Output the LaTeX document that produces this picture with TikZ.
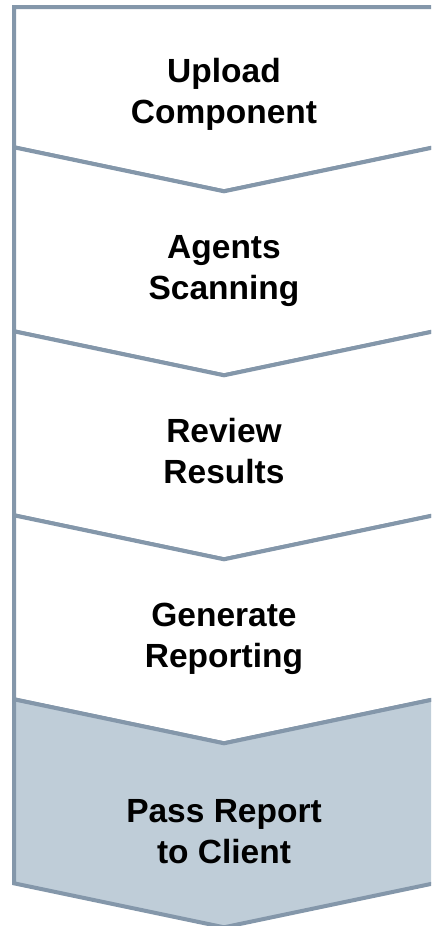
\documentclass[tikz,border=0pt]{standalone}
\usepackage{fontspec}
\setmainfont{Liberation Sans}
\definecolor{chevline}{RGB}{132,151,170}
\definecolor{chevfill}{RGB}{191,205,216}
\begin{document}
\begin{tikzpicture}[x=1pt,y=-1pt,
  chev/.style={draw=chevline, line width=4pt, line join=miter, fill=white},
  lastchev/.style={chev, fill=chevfill},
  lbl/.style={align=center, font=\fontsize{33.5}{41.5}\selectfont\bfseries, inner sep=0pt, text=black}]
\useasboundingbox (0,0) rectangle (431,926);
\clip (0,0) rectangle (431,926);
% chevrons
\path[chev] (14,7) -- (434,7) -- (434,147.3) -- (224,191.3) -- (14,147.3) -- cycle;
\path[chev] (14,147.3) -- (224,191.3) -- (434,147.3) -- (434,331.3) -- (224,375.3) -- (14,331.3) -- cycle;
\path[chev] (14,331.3) -- (224,375.3) -- (434,331.3) -- (434,515.3) -- (224,559.3) -- (14,515.3) -- cycle;
\path[chev] (14,515.3) -- (224,559.3) -- (434,515.3) -- (434,699.3) -- (224,743.3) -- (14,699.3) -- cycle;
\path[lastchev] (14,699.3) -- (224,743.3) -- (434,699.3) -- (434,883.3) -- (224,927.3) -- (14,883.3) -- cycle;
% labels
\node[lbl] (upload) at (224,94.75) {\strut Upload\\\strut Component};
\node[lbl] (agents) at (224,270.75) {\strut Agents\\\strut Scanning};
\node[lbl] (review) at (224,454.75) {\strut Review\\\strut Results};
\node[lbl] (generate) at (224,638.75) {\strut Generate\\\strut Reporting};
\node[lbl] (pass) at (224,834.75) {\strut Pass Report\\\strut to Client};
\end{tikzpicture}
\end{document}
